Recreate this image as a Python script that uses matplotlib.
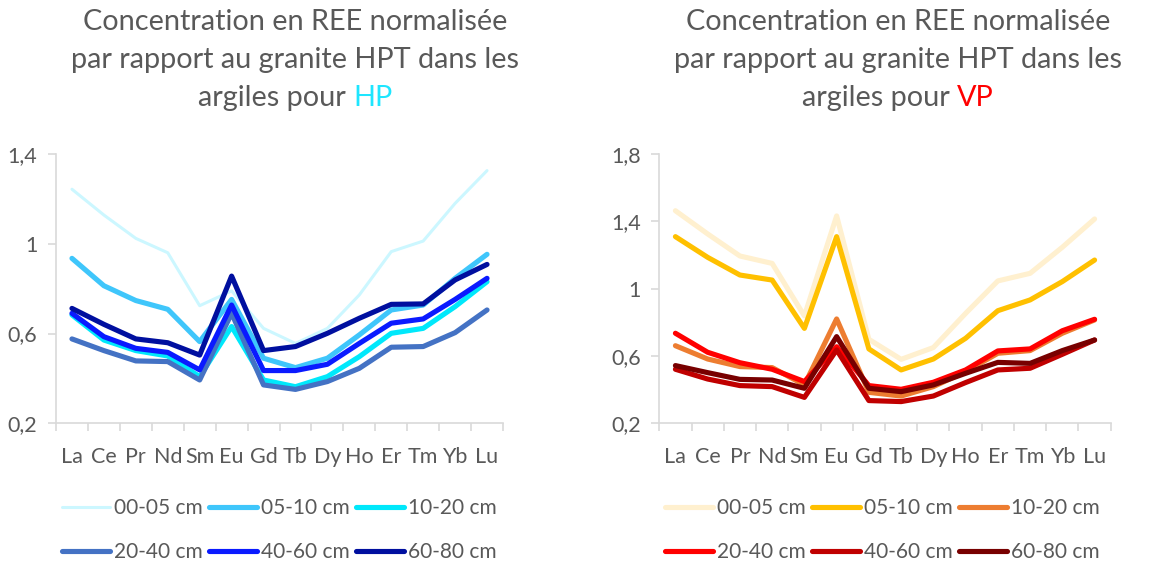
import matplotlib
matplotlib.use("Agg")
import matplotlib.pyplot as plt
from matplotlib.ticker import FixedLocator, NullFormatter, FixedFormatter

plt.rcParams['font.family'] = ['Lato', 'DejaVu Sans']

elements = ["La", "Ce", "Pr", "Nd", "Sm", "Eu", "Gd", "Tb", "Dy", "Ho", "Er", "Tm", "Yb", "Lu"]
depths = ["00-05 cm", "05-10 cm", "10-20 cm", "20-40 cm", "40-60 cm", "60-80 cm"]

# HP profile, normalised to HPT granite
hp_00_05 = [1.243, 1.128, 1.024, 0.960, 0.724, 0.790, 0.623, 0.556, 0.623, 0.772, 0.965, 1.012, 1.180, 1.326]
hp_05_10 = [0.935, 0.813, 0.747, 0.708, 0.564, 0.752, 0.490, 0.448, 0.490, 0.594, 0.705, 0.727, 0.846, 0.953]
hp_10_20 = [0.683, 0.571, 0.524, 0.500, 0.408, 0.631, 0.393, 0.363, 0.408, 0.497, 0.601, 0.623, 0.720, 0.831]
hp_20_40 = [0.576, 0.524, 0.478, 0.475, 0.393, 0.690, 0.371, 0.351, 0.386, 0.445, 0.539, 0.542, 0.604, 0.705]
hp_40_60 = [0.690, 0.586, 0.534, 0.516, 0.438, 0.727, 0.435, 0.435, 0.463, 0.556, 0.646, 0.665, 0.752, 0.846]
hp_60_80 = [0.712, 0.641, 0.576, 0.559, 0.504, 0.856, 0.524, 0.542, 0.601, 0.668, 0.730, 0.732, 0.839, 0.908]

# VP profile, normalised to HPT granite
vp_00_05 = [1.463, 1.325, 1.194, 1.150, 0.838, 1.432, 0.699, 0.580, 0.650, 0.853, 1.046, 1.091, 1.246, 1.414]
vp_05_10 = [1.309, 1.186, 1.081, 1.051, 0.764, 1.309, 0.642, 0.517, 0.582, 0.705, 0.869, 0.933, 1.042, 1.170]
vp_10_20 = [0.661, 0.582, 0.537, 0.531, 0.428, 0.820, 0.384, 0.362, 0.418, 0.507, 0.616, 0.632, 0.735, 0.814]
vp_20_40 = [0.735, 0.622, 0.560, 0.521, 0.448, 0.655, 0.424, 0.402, 0.444, 0.517, 0.630, 0.642, 0.750, 0.818]
vp_40_60 = [0.521, 0.463, 0.424, 0.418, 0.354, 0.636, 0.335, 0.329, 0.362, 0.442, 0.517, 0.527, 0.610, 0.695]
vp_60_80 = [0.543, 0.501, 0.461, 0.457, 0.408, 0.715, 0.408, 0.388, 0.428, 0.497, 0.562, 0.556, 0.632, 0.695]

hp_series = [hp_00_05, hp_05_10, hp_10_20, hp_20_40, hp_40_60, hp_60_80]
vp_series = [vp_00_05, vp_05_10, vp_10_20, vp_20_40, vp_40_60, vp_60_80]

hp_colors = ["#ccf7ff", "#3fc6fb", "#00e8fb", "#4472c4", "#0a1aff", "#000f9f"]
vp_colors = ["#fff0cf", "#ffc000", "#ed7d31", "#ff0000", "#c00000", "#780000"]
hp_widths = [2.2, 3.7, 3.7, 3.7, 3.7, 3.7]
vp_widths = [3.7, 3.7, 3.7, 3.7, 3.7, 3.7]

hp_yticks = [0.2, 0.6, 1.0, 1.4]
hp_yticklabels = ["0,2", "0,6", "1", "1,4"]
vp_yticks = [0.2, 0.6, 1.0, 1.4, 1.8]
vp_yticklabels = ["0,2", "0,6", "1", "1,4", "1,8"]

GRAY = "#595959"
AXIS = "#d9d9d9"

W, H = 1173, 565
fig = plt.figure(figsize=(W / 100, H / 100), dpi=100)


def px_rect(x0, x1, ytop, ybot):
    return [x0 / W, 1 - ybot / H, (x1 - x0) / W, (ybot - ytop) / H]


def draw_panel(rect, series, colors, widths, yticks, yticklabels, title_word, title_color,
               title_cx, legend_x):
    ax = fig.add_axes(rect)
    x = list(range(1, len(elements) + 1))
    for vals, c, lw, lab in zip(series, colors, widths, depths):
        ax.plot(x, vals, color=c, lw=lw, label=lab, solid_joinstyle='round',
                solid_capstyle='round')
    ax.set_xlim(0.5, len(elements) + 0.5)
    ax.set_ylim(yticks[0], yticks[-1])
    for s in ["top", "right"]:
        ax.spines[s].set_visible(False)
    for s in ["left", "bottom"]:
        ax.spines[s].set_color(AXIS)
        ax.spines[s].set_linewidth(1.2)
        ax.spines[s].set_zorder(0.5)

    # category boundaries carry the tick marks, labels sit between them
    ax.xaxis.set_major_locator(FixedLocator([i + 0.5 for i in range(len(elements) + 1)]))
    ax.xaxis.set_major_formatter(NullFormatter())
    ax.xaxis.set_minor_locator(FixedLocator(x))
    ax.xaxis.set_minor_formatter(FixedFormatter(elements))
    ax.tick_params(axis='x', which='major', length=5.5, width=1.2, color=AXIS, direction='out')
    ax.tick_params(axis='x', which='minor', length=0, pad=17, labelsize=15.5, labelcolor=GRAY)

    ax.set_yticks(yticks)
    ax.set_yticklabels(yticklabels)
    ax.tick_params(axis='y', length=5.5, width=1.2, color=AXIS, direction='out', pad=8,
                   labelsize=15.5, labelcolor=GRAY)

    # three-line title, last word coloured
    ts = 20.8
    fig.text(title_cx / W, 1 - 22 / H, "Concentration en REE normalisée",
             ha='center', va='center', fontsize=ts, color=GRAY)
    fig.text(title_cx / W, 1 - 60 / H, "par rapport au granite HPT dans les",
             ha='center', va='center', fontsize=ts, color=GRAY)
    t1 = fig.text(0, 1 - 98 / H, "argiles pour ", ha='left', va='center', fontsize=ts, color=GRAY)
    t2 = fig.text(0, 1 - 98 / H, title_word, ha='left', va='center', fontsize=ts, color=title_color)
    r = fig.canvas.get_renderer()
    w1 = t1.get_window_extent(r).width
    w2 = t2.get_window_extent(r).width
    start = title_cx - (w1 + w2) / 2
    t1.set_x(start / W)
    t2.set_x((start + w1) / W)

    # legend filled row by row (3 per row)
    handles, labels = ax.get_legend_handles_labels()
    order = [0, 3, 1, 4, 2, 5]
    leg = ax.legend([handles[i] for i in order], [labels[i] for i in order],
                    loc='upper left', bbox_to_anchor=(legend_x / W, 1 - 498 / H),
                    bbox_transform=fig.transFigure, ncol=3, frameon=False,
                    fontsize=15, handlelength=2.3, handletextpad=0.2,
                    columnspacing=0.3, labelspacing=1.15, borderpad=0, borderaxespad=0)
    for txt in leg.get_texts():
        txt.set_color(GRAY)
    for h in leg.get_lines():
        h.set_solid_capstyle('round')
    return ax


draw_panel(px_rect(56, 503, 154, 423.3), hp_series, hp_colors, hp_widths,
           hp_yticks, hp_yticklabels, "HP", "#1ee6ff", 295, 62)
draw_panel(px_rect(659.3, 1110.7, 154, 423.3), vp_series, vp_colors, vp_widths,
           vp_yticks, vp_yticklabels, "VP", "#ff0000", 898, 665)

fig.savefig("out.png", dpi=100)
